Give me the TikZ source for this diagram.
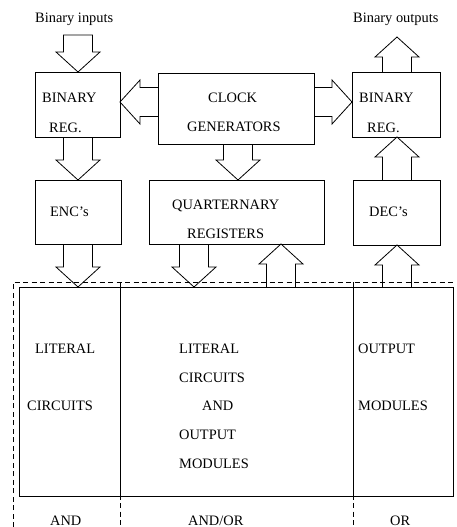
\documentclass[tikz,border=0pt]{standalone}
\usepackage{fontspec}
\setmainfont{Liberation Serif}
\usetikzlibrary{calc}

% sizes of the hollow block arrows
\newcommand\shaftw{14.5pt}
\newcommand\headw{22pt}
\newcommand\headl{20pt}

% hollow block arrow from #2 (open back end) to #3 (tip); #1 may close the back end
\newcommand\fatarrow[3][]{%
  \draw[fat] ($(#2)!\shaftw!90:(#3)$)
    -- ($(#3)!\headl!(#2)!\shaftw!90:(#3)$)
    -- ($(#3)!\headl!(#2)!\headw!90:(#3)$)
    -- (#3)
    -- ($(#3)!\headl!(#2)!\headw!-90:(#3)$)
    -- ($(#3)!\headl!(#2)!\shaftw!-90:(#3)$)
    -- ($(#2)!\shaftw!-90:(#3)$) #1;
}

\tikzset{
  box/.style={draw, line width=0.8pt, inner sep=0pt, outer sep=0pt},
  fat/.style={line width=0.8pt, line join=miter},
  part/.style={line width=0.8pt, dash pattern=on 5pt off 3.5pt},
  lbl/.style={anchor=base west, inner sep=0pt, font=\fontsize{14.4}{17}\selectfont},
}

\begin{document}
\begin{tikzpicture}[x=1pt, y=-1pt]
  \useasboundingbox (0,0) rectangle (456,527);

  % register and coder boxes
  \node[box, minimum width=85pt,  minimum height=65pt] (binL) at (77.5,104.5) {};
  \node[box, minimum width=156pt, minimum height=71pt] (clk)  at (236,108.5) {};
  \node[box, minimum width=88pt,  minimum height=65pt] (binR) at (396,104.5) {};
  \node[box, minimum width=86pt,  minimum height=64pt] (enc)  at (78,212) {};
  \node[box, minimum width=175pt, minimum height=64pt] (quat) at (236.5,212) {};
  \node[box, minimum width=87pt,  minimum height=65pt] (dec)  at (396.5,212.5) {};

  % logic blocks
  \node[box, minimum width=101pt, minimum height=209pt] (litL) at (69.5,391.5) {};
  \node[box, minimum width=233pt, minimum height=209pt] (mid)  at (236.5,391.5) {};
  \node[box, minimum width=100pt, minimum height=209pt] (outm) at (403,391.5) {};

  % partition of the logic levels
  \draw[part] (13,527) -- (13,282) -- (456,282);
  \draw[part] (120,282) -- (120,527);
  \draw[part] (353,282) -- (353,527);

  % arrow axes
  \coordinate (colL)  at (78,0);
  \coordinate (colC)  at (238,0);
  \coordinate (colQd) at (194,0);
  \coordinate (colQu) at (281,0);
  \coordinate (colR)  at (397,0);
  \coordinate (rowA)  at (0,102);
  \coordinate (inTop) at (78,35);
  \coordinate (outTip) at (397,37);

  % data and clock paths
  \fatarrow[-- cycle]{inTop}{inTop |- binL.north}
  \fatarrow{clk.west |- rowA}{binL.east |- rowA}
  \fatarrow{clk.east |- rowA}{binR.west |- rowA}
  \fatarrow{colR |- binR.north}{outTip}
  \fatarrow{colL |- binL.south}{colL |- enc.north}
  \fatarrow{colC |- clk.south}{colC |- quat.north}
  \fatarrow{colL |- enc.south}{colL |- litL.north}
  \fatarrow{colQd |- quat.south}{colQd |- mid.north}
  \fatarrow{colQu |- mid.north}{colQu |- quat.south}
  \fatarrow{colR |- outm.north}{colR |- dec.south}
  \fatarrow{colR |- dec.north}{colR |- binR.south}

  % labels
  \node[lbl] (tin)  at (35,23)  {Binary inputs};
  \node[lbl] (tout) at (353,23) {Binary outputs};
  \node[lbl] (tb1)  at (42,102) {BINARY};
  \node[lbl] (tr1)  at (49,132) {REG.};
  \node[lbl] (tc1)  at (208,102) {CLOCK};
  \node[lbl] (tc2)  at (187,131) {GENERATORS};
  \node[lbl] (tb2)  at (359,102) {BINARY};
  \node[lbl] (tr2)  at (367,132) {REG.};
  \node[lbl] (te)   at (50,216) {ENC's};
  \node[lbl] (tq1)  at (172,209) {QUARTERNARY};
  \node[lbl] (tq2)  at (187,238) {REGISTERS};
  \node[lbl] (td)   at (369,216) {DEC's};
  \node[lbl] (tl1)  at (35,353) {LITERAL};
  \node[lbl] (tl2)  at (27,410) {CIRCUITS};
  \node[lbl] (tm1)  at (179,353) {LITERAL};
  \node[lbl] (tm2)  at (179,382) {CIRCUITS};
  \node[lbl] (tm3)  at (202,410) {AND};
  \node[lbl] (tm4)  at (179,439) {OUTPUT};
  \node[lbl] (tm5)  at (179,468) {MODULES};
  \node[lbl] (to1)  at (358,353) {OUTPUT};
  \node[lbl] (to2)  at (358,410) {MODULES};
  \node[lbl] (ta1)  at (50,525) {AND};
  \node[lbl] (ta2)  at (188,525) {AND/OR};
  \node[lbl] (ta3)  at (390,525) {OR};
\end{tikzpicture}
\end{document}
